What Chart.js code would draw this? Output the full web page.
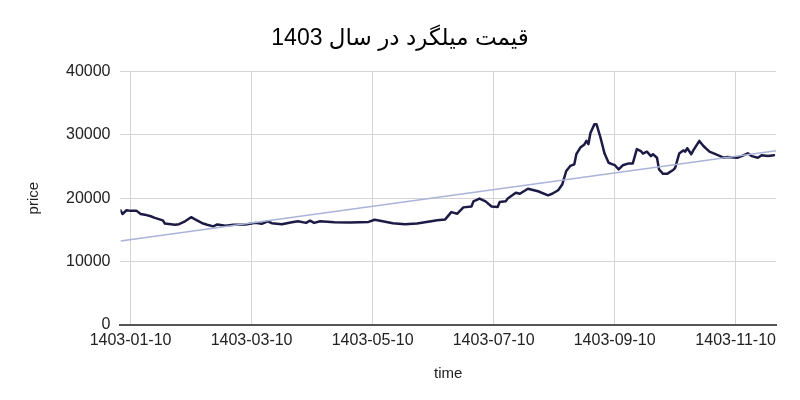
<!DOCTYPE html>
<html>
<head>
<meta charset="utf-8">
<script src="https://cdn.jsdelivr.net/npm/chart.js@4"></script>
<style>
  html, body { margin: 0; padding: 0; background: #ffffff; }
  #wrap { width: 800px; height: 400px; }
</style>
</head>
<body>
<div id="wrap"><canvas id="c" width="800" height="400"></canvas></div>
<script>
const chartTitle = 'قیمت میلگرد در سال 1403';
const xTitle = 'time';
const yTitle = 'price';

const tickLabels = ['1403-01-10', '1403-03-10', '1403-05-10', '1403-07-10', '1403-09-10', '1403-11-10'];
const tickIndex = [0, 60, 120, 180, 240, 300];

const dayIndex = [
  -5, -4, -2, 0, 3, 5, 7, 10, 12, 16,
  17, 22, 24, 27, 30, 32, 36, 38, 41, 43,
  47, 51, 57, 62, 65, 68, 70, 75, 80, 83,
  87, 89, 91, 94, 101, 109, 118, 121, 125, 130,
  136, 142, 149, 152, 156, 159, 162, 165, 169, 170,
  173, 176, 179, 182, 183, 186, 187, 191, 193, 197,
  202, 207, 209, 212, 214, 216, 218, 220, 221, 223,
  225, 226, 227, 228, 230, 231, 233, 235, 237, 239,
  240, 242, 244, 247, 249, 251, 253, 254, 256, 258,
  259, 261, 262, 264, 266, 269, 270, 272, 274, 275,
  276, 278, 279, 282, 284, 287, 290, 294, 296, 301,
  303, 306, 308, 311, 313, 316, 319
];
const price = [
  18100, 17500, 18100, 18000, 18000, 17500, 17400, 17150, 16900, 16500,
  16000, 15800, 15900, 16350, 17000, 16650, 16000, 15800, 15550, 15850,
  15650, 15800, 15850, 16100, 15950, 16350, 16050, 15900, 16200, 16350,
  16100, 16450, 16100, 16350, 16200, 16150, 16250, 16600, 16350, 16050,
  15900, 16000, 16350, 16500, 16650, 17800, 17550, 18550, 18700, 19500,
  19950, 19500, 18700, 18600, 19400, 19500, 19950, 20850, 20700, 21500,
  21100, 20450, 20700, 21250, 22150, 24300, 25100, 25350, 26950, 28000,
  28500, 29050, 28550, 30300, 31700, 31700, 29550, 27050, 25600, 25350,
  25250, 24550, 25200, 25500, 25500, 27750, 27450, 27050, 27350, 26650,
  26950, 26400, 24550, 23850, 23850, 24450, 24800, 27050, 27550, 27350,
  27900, 26950, 27550, 29050, 28250, 27350, 26950, 26400, 26500, 26400,
  26650, 27100, 26650, 26400, 26800, 26650, 26800
];
const trendIndex = [-5, 320];
const trendPrice = [13250, 27500];

const yTicks = [0, 10000, 20000, 30000, 40000];

const priceData = dayIndex.map((d, i) => ({ x: d, y: price[i] }));
const trendData = trendIndex.map((d, i) => ({ x: d, y: trendPrice[i] }));

const tickFont = { family: "'Liberation Sans', Arial, sans-serif", size: 16 };

new Chart(document.getElementById('c'), {
  type: 'line',
  data: {
    datasets: [
      {
        label: 'trend',
        data: trendData,
        borderColor: '#aab3d8',
        borderWidth: 1.5,
        pointRadius: 0,
        tension: 0
      },
      {
        label: 'price',
        data: priceData,
        borderColor: '#1c1b45',
        borderWidth: 2.5,
        borderJoinStyle: 'round',
        borderCapStyle: 'round',
        pointRadius: 0,
        tension: 0
      }
    ]
  },
  options: {
    responsive: false,
    animation: false,
    layout: { padding: { left: 24, right: 24, top: 0, bottom: 17 } },
    plugins: {
      legend: { display: false },
      tooltip: { enabled: false },
      title: {
        display: true,
        text: chartTitle,
        color: '#000000',
        font: { family: "'Liberation Sans', 'DejaVu Sans', sans-serif", size: 23, weight: 'normal' },
        padding: { top: 25, bottom: 19 }
      }
    },
    scales: {
      x: {
        type: 'linear',
        min: -5,
        max: 320,
        afterBuildTicks: (axis) => { axis.ticks = tickIndex.map(v => ({ value: v })); },
        ticks: {
          autoSkip: false,
          maxRotation: 0,
          padding: 6,
          color: '#222222',
          font: tickFont,
          callback: (value) => {
            const k = tickIndex.indexOf(value);
            return k >= 0 ? tickLabels[k] : '';
          }
        },
        grid: { color: '#d4d4d4', lineWidth: 1, drawTicks: false },
        border: { display: true, color: '#555555', width: 2 },
        title: {
          display: true,
          text: xTitle,
          color: '#222222',
          font: { family: "'Liberation Sans', Arial, sans-serif", size: 15 },
          padding: { top: 9, bottom: 0 }
        }
      },
      y: {
        min: 0,
        max: 40000,
        afterBuildTicks: (axis) => { axis.ticks = yTicks.map(v => ({ value: v })); },
        ticks: {
          padding: 10,
          color: '#222222',
          font: tickFont,
          callback: (value) => String(value)
        },
        grid: { color: '#d4d4d4', lineWidth: 1, drawTicks: false },
        border: { display: false },
        title: {
          display: true,
          text: yTitle,
          color: '#222222',
          font: { family: "'Liberation Sans', Arial, sans-serif", size: 15 },
          padding: { top: 1, bottom: 13 }
        }
      }
    }
  }
});
</script>
</body>
</html>
